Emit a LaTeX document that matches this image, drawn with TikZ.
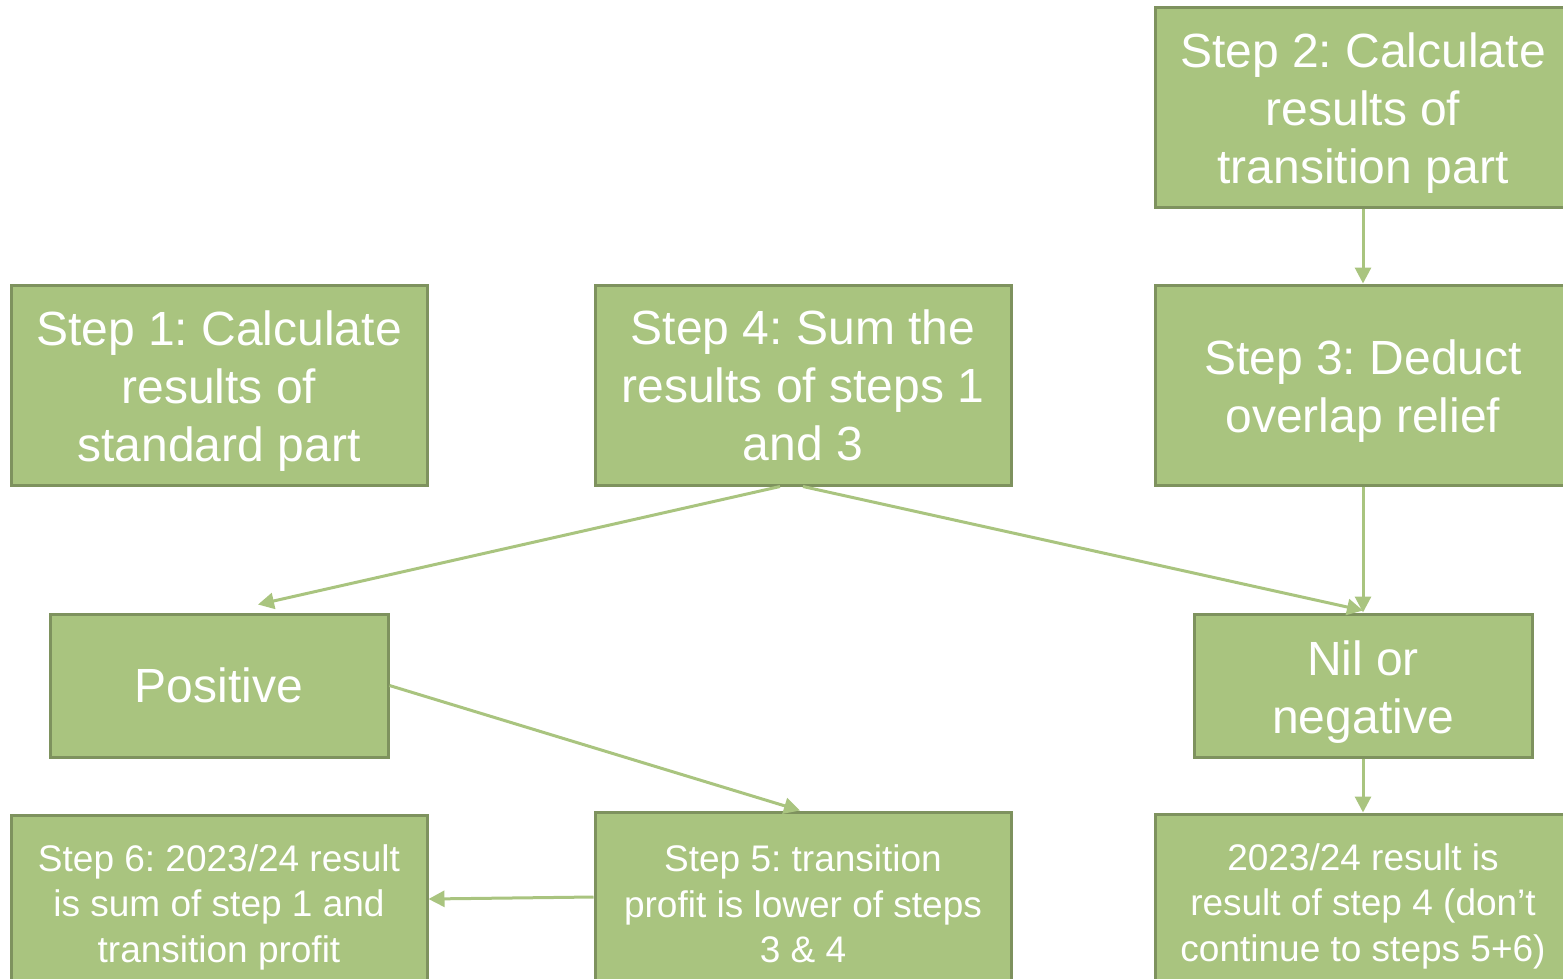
\documentclass[tikz,border=0pt]{standalone}
\usepackage{fontspec}
\setmainfont{Liberation Sans}
\usetikzlibrary{arrows.meta}
\definecolor{leaf}{HTML}{A9C47F}
\definecolor{leafdark}{HTML}{7E925E}
\frenchspacing
\newcommand\toppad{\rule{0pt}{47pt}}

\begin{document}
\begin{tikzpicture}[
  x=1pt,y=-1pt,
  box/.style={draw=leafdark,fill=leaf,line width=3pt,text=white,align=center,
              minimum width=416pt,minimum height=200pt,inner sep=0pt,
              font=\fontsize{48}{58}\selectfont},
  small/.style={minimum width=338pt,minimum height=143pt},
  note/.style={minimum height=184pt,font=\fontsize{37}{45.5}\selectfont},
  flow/.style={-{Triangle[length=16pt,width=16pt]},draw=leaf,line width=3pt}
]
\useasboundingbox (0,0) rectangle (1563,978);
\clip (0,0) rectangle (1563,978);

% Top row: the three calculation steps.
\node[box] (step2) at (1363,107) {\toppad Step 2: Calculate\\results of\\transition part};
\node[box] (step1) at (219,385) {\toppad Step 1: Calculate\\results of\\standard part};
\node[box] (step4) at (803,385) {Step 4: Sum the\\results of steps 1\\and 3};
\node[box] (step3) at (1363,385) {\toppad Step 3: Deduct\\overlap relief};

% Outcome of step 4.
\node[box,small] (pos) at (219,685.5) {Positive};
\node[box,small] (nil) at (1363,685.5) {\toppad Nil or\\negative};

% Bottom row, cut off by the page edge.
\node[box,note] (step6) at (219,907) {Step 6: 2023/24 result\\is sum of step 1 and\\transition profit};
\node[box,note] (step5) at (803,904) {Step 5: transition\\profit is lower of steps\\3 \& 4};
\node[box,note] (final) at (1363,906) {2023/24 result is\\result of step 4 (don’t\\continue to steps 5+6)};

\draw[flow] (step2) -- (step3);
\draw[flow] ([xshift=-23pt]step4.south) -- ([xshift=39pt,yshift=8pt]pos.north);
\draw[flow] (step4.south) -- ([yshift=2pt]nil.north);
\draw[flow] (step3) -- (nil);
\draw[flow] (nil) -- (final);
\draw[flow] (pos.east) -- ([xshift=-3pt]step5.north);
\draw[flow] ([yshift=7pt]step5.west) -- ([yshift=8pt]step6.east);

\end{tikzpicture}
\end{document}
